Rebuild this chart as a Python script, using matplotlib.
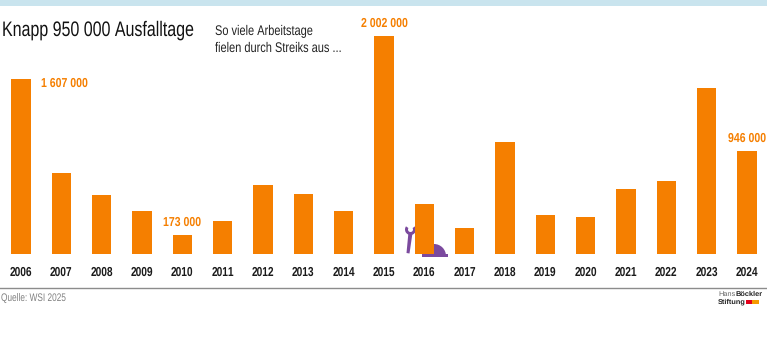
import numpy as np
import matplotlib
matplotlib.use("Agg")
from matplotlib import pyplot as plt
from matplotlib import font_manager as fm
from matplotlib.patches import Rectangle, Polygon, Wedge
from fontTools.ttLib import TTFont
from fontTools.ttLib.tables import ttProgram

jahre = [2006, 2007, 2008, 2009, 2010, 2011, 2012, 2013, 2014, 2015,
         2016, 2017, 2018, 2019, 2020, 2021, 2022, 2023, 2024]
ausfalltage = [1607000, 744000, 542000, 395000, 173000, 303000, 634000, 551000, 395000, 2002000,
               459000, 239000, 1029000, 358000, 340000, 597000, 670000, 1524000, 946000]
beschriftung = {2006: "1 607 000", 2010: "173 000", 2015: "2 002 000", 2024: "946 000"}

ORANGE = "#f57f00"
LILA = "#7b4a9e"
W, H = 767, 355


def schmale_schrift(gewicht, name, sx=0.78):
    # no condensed face installed, so squeeze Liberation Sans and register it
    pfad = fm.findfont(fm.FontProperties(family="Liberation Sans", weight=gewicht))
    f = TTFont(pfad)
    glyf = f["glyf"]
    hmtx = f["hmtx"]
    for g in f.getGlyphOrder():
        gl = glyf[g]
        if gl.isComposite():
            for c in gl.components:
                c.x = int(c.x * sx)
        elif gl.numberOfContours > 0:
            gl.coordinates.scale((sx, 1))
            gl.coordinates.toInt()
        if hasattr(gl, "program"):
            gl.program = ttProgram.Program()
            gl.program.fromBytecode(b"")
        adv, lsb = hmtx[g]
        hmtx[g] = (int(adv * sx), int(lsb * sx))
    for tab in ["kern", "GPOS", "GSUB", "GDEF", "hdmx", "VDMX", "LTSH", "fpgm", "prep", "cvt "]:
        if tab in f:
            del f[tab]
    for rec in f["name"].names:
        if rec.nameID in (1, 4, 16):
            rec.string = name
    datei = name.replace(" ", "") + ".ttf"
    f.save(datei)
    fm.fontManager.addfont(datei)


schmale_schrift("normal", "Schmal Normal")
schmale_schrift("bold", "Schmal Fett")
NORMAL = ["Schmal Normal", "DejaVu Sans"]
FETT = ["Schmal Fett", "DejaVu Sans"]
plt.rcParams['font.family'] = NORMAL
plt.rcParams['text.hinting'] = 'no_hinting'

fig = plt.figure(figsize=(W / 100, H / 100), dpi=100, facecolor="white")

# overlay in pixel coords for the furniture
bg = fig.add_axes([0, 0, 1, 1])
bg.set_xlim(0, W)
bg.set_ylim(H, 0)
bg.axis("off")
bg.add_patch(Rectangle((0, 0), W, 6, color="#c9e4ee", lw=0))
bg.plot([0, W], [288, 288], color="#8c8c8c", lw=1)

# bars
base = 254
schritt = (747 - 21) / 18
ax = fig.add_axes([0, (H - base) / H, 1, (base - 6) / H])
ax.patch.set_alpha(0)
ax.set_xlim(2006 - 21 / schritt, 2006 + (W - 21) / schritt)
ax.set_ylim(0, 2002000 / 218 * (base - 6))
ax.bar(jahre, ausfalltage, width=19.5 / schritt, color=ORANGE)
for s in ax.spines.values():
    s.set_visible(False)
ax.set_yticks([])
ax.set_xticks(jahre)
ax.set_xticklabels(jahre, fontsize=9.4, family=FETT, color="#1a1a1a")
ax.tick_params(axis="x", length=0, pad=9)

# value labels
for j, w in zip(jahre, ausfalltage):
    if j not in beschriftung:
        continue
    if j == 2006:
        ax.annotate(beschriftung[j], (j, w), xytext=(20, -5), textcoords="offset pixels",
                    color=ORANGE, fontsize=9.7, family=FETT, va="center", ha="left")
    else:
        ax.annotate(beschriftung[j], (j, w), xytext=(0, 12.5), textcoords="offset pixels",
                    color=ORANGE, fontsize=9.7, family=FETT, va="center", ha="center")

# titles
bg.text(2, 30, "Knapp 950 000 Ausfalltage", fontsize=14.8, color="#111111", va="center", ha="left")
bg.text(215, 31.5, "So viele Arbeitstage", fontsize=10.2, color="#222222", va="center", ha="left")
bg.text(215, 48, "fielen durch Streiks aus ...", fontsize=10.2, color="#222222", va="center", ha="left")

# source + logo
bg.text(1, 299, "Quelle: WSI 2025", fontsize=7.7, color="#808080", va="center", ha="left")
bg.text(718, 294.5, "Hans", fontsize=5.3, color="#666666", va="center", ha="left", family="Liberation Sans")
bg.text(735, 294.5, "Böckler", fontsize=5.3, color="#222222", va="center", ha="left",
        fontweight="bold", family="Liberation Sans")
bg.text(718, 302, "Stiftung", fontsize=5.3, color="#222222", va="center", ha="left",
        fontweight="bold", family="Liberation Sans")
bg.add_patch(Rectangle((746, 300), 13, 3.5, color="#f59a00", lw=0, zorder=3))
bg.add_patch(Rectangle((746, 300), 6, 3.5, color="#e2001a", lw=0, zorder=4))

# wrench and hard hat
bg.add_patch(Polygon([[406.5, 253], [409.5, 253.5], [412.5, 233], [408.5, 232]], color=LILA, lw=0, zorder=5))
bg.add_patch(Wedge((410.5, 229.5), 5.5, -35, 215, width=3, color=LILA, lw=0, zorder=5))
bg.add_patch(Wedge((434, 256), 12, 180, 360, color=LILA, lw=0, zorder=5))
bg.add_patch(Rectangle((422, 253.5), 26, 3, color=LILA, lw=0, zorder=5))

fig.savefig("out.png", dpi=100)
